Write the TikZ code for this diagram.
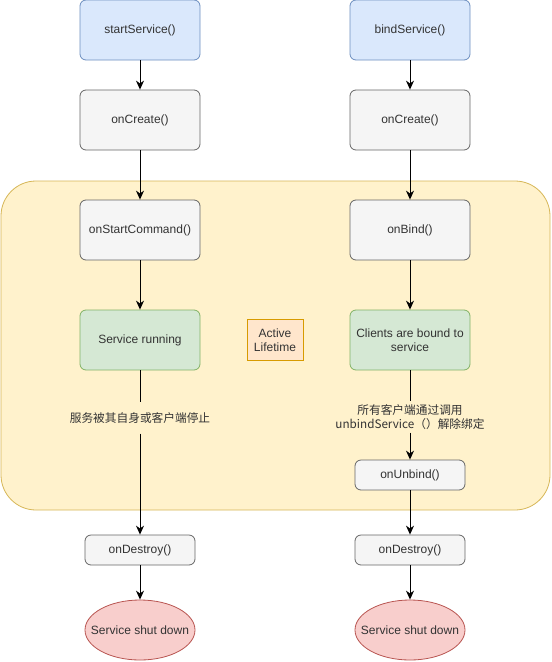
\documentclass[tikz,border=0pt]{standalone}
\usepackage{fontspec}
\setmainfont{Liberation Sans}
\newfontfamily\cjk{Noto Sans CJK SC}
\usetikzlibrary{arrows.meta,shapes.geometric}

\definecolor{callfill}{HTML}{DAE8FC}
\definecolor{callline}{HTML}{6C8EBF}
\definecolor{stepfill}{HTML}{F5F5F5}
\definecolor{stepline}{HTML}{666666}
\definecolor{runfill}{HTML}{D5E8D4}
\definecolor{runline}{HTML}{82B366}
\definecolor{endfill}{HTML}{F8CECC}
\definecolor{endline}{HTML}{B85450}
\definecolor{lifefill}{HTML}{FFF2CC}
\definecolor{lifeline}{HTML}{D6B656}
\definecolor{tagfill}{HTML}{FFE6CC}
\definecolor{tagline}{HTML}{D79B00}
\definecolor{ink}{HTML}{333333}

\begin{document}
\begin{tikzpicture}[x=1pt,y=-1pt,font=\fontsize{12}{14}\selectfont,text=ink]
\tikzset{every node/.append style={inner sep=0pt},
  box/.style={draw,line width=0.8pt,rounded corners=6,minimum width=120,minimum height=60,align=center},
  call/.style={box,fill=callfill,draw=callline},
  stepbox/.style={box,fill=stepfill,draw=stepline},
  smallbox/.style={stepbox,minimum width=110,minimum height=30},
  runbox/.style={box,fill=runfill,draw=runline},
  shutdown/.style={ellipse,draw=endline,fill=endfill,line width=0.8pt,minimum width=110,minimum height=60,label={[text=ink]center:#1}},
  note/.style={fill=lifefill,align=center,font=\cjk\fontsize{11.7}{14}\selectfont},
  flow/.style={-{Stealth[length=9pt,width=8pt]},line width=0.9pt,black}}
\useasboundingbox (0,0) rectangle (552,662);
% active lifetime region
\draw [fill=lifefill,draw=lifeline,line width=0.8pt,rounded corners=35] (1,181) rectangle (550,510);
\node [fill=tagfill,draw=tagline,line width=0.8pt,minimum width=56,minimum height=41,align=center] (active) at (275,340) {Active\\Lifetime};
% started service
\node [call] (start) at (140,30) {startService()};
\node [stepbox] (create1) at (140,120) {onCreate()};
\node [stepbox] (command) at (140,230) {onStartCommand()};
\node [runbox] (running) at (140,340) {Service running};
\node [note,inner ysep=10pt] (stopnote) at (140,418) {服务被其自身或客户端停止};
\node [smallbox] (destroy1) at (140,550) {onDestroy()};
\node [shutdown={Service shut down}] (down1) at (140,630) {};
\draw [flow] (start) -- (create1);
\draw [flow] (create1) -- (command);
\draw [flow] (command) -- (running);
\draw [line width=0.9pt] (running) -- (stopnote);
\draw [flow] (stopnote) -- (destroy1);
\draw [flow] (destroy1) -- (down1);
% bound service
\node [call] (bind) at (410,30) {bindService()};
\node [stepbox] (create2) at (410,120) {onCreate()};
\node [stepbox] (onbind) at (410,230) {onBind()};
\node [runbox] (bound) at (410,340) {Clients are bound to\\service};
\node [note,inner ysep=3pt] (unbindnote) at (410,417) {所有客户端通过调用\\unbindService（）解除绑定};
\node [smallbox] (unbind) at (410,475) {onUnbind()};
\node [smallbox] (destroy2) at (410,550) {onDestroy()};
\node [shutdown={Service shut down}] (down2) at (410,630) {};
\draw [flow] (bind) -- (create2);
\draw [flow] (create2) -- (onbind);
\draw [flow] (onbind) -- (bound);
\draw [line width=0.9pt] (bound) -- (unbindnote);
\draw [flow] (unbindnote) -- (unbind);
\draw [flow] (unbind) -- (destroy2);
\draw [flow] (destroy2) -- (down2);
\end{tikzpicture}
\end{document}
